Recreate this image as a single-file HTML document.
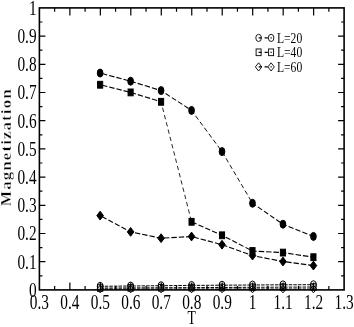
<!DOCTYPE html>
<html><head><meta charset="utf-8"><title>Magnetization vs T</title>
<style>html,body{margin:0;padding:0;background:#fff;}body{width:354px;height:327px;overflow:hidden;}svg{display:block;filter:grayscale(1);}text{font-family:"Liberation Serif",serif;fill:#000;}</style>
</head><body>
<svg width="354" height="327" viewBox="0 0 354 327">
<rect x="0" y="0" width="354" height="327" fill="#fff"/>
<rect x="39.4" y="7.9" width="304.70" height="282.00" fill="none" stroke="#000" stroke-width="1.6"/>
<path d="M54.63 289.9 v-3.8 M54.63 7.9 v3.8 M69.87 289.9 v-7.5 M69.87 7.9 v7.5 M85.11 289.9 v-3.8 M85.11 7.9 v3.8 M100.34 289.9 v-7.5 M100.34 7.9 v7.5 M115.58 289.9 v-3.8 M115.58 7.9 v3.8 M130.81 289.9 v-7.5 M130.81 7.9 v7.5 M146.05 289.9 v-3.8 M146.05 7.9 v3.8 M161.28 289.9 v-7.5 M161.28 7.9 v7.5 M176.52 289.9 v-3.8 M176.52 7.9 v3.8 M191.75 289.9 v-7.5 M191.75 7.9 v7.5 M206.99 289.9 v-3.8 M206.99 7.9 v3.8 M222.22 289.9 v-7.5 M222.22 7.9 v7.5 M237.46 289.9 v-3.8 M237.46 7.9 v3.8 M252.69 289.9 v-7.5 M252.69 7.9 v7.5 M267.93 289.9 v-3.8 M267.93 7.9 v3.8 M283.16 289.9 v-7.5 M283.16 7.9 v7.5 M298.40 289.9 v-3.8 M298.40 7.9 v3.8 M313.63 289.9 v-7.5 M313.63 7.9 v7.5 M328.87 289.9 v-3.8 M328.87 7.9 v3.8 M39.4 275.80 h3.0 M344.1 275.80 h-3.0 M39.4 261.70 h6.0 M344.1 261.70 h-6.0 M39.4 247.60 h3.0 M344.1 247.60 h-3.0 M39.4 233.50 h6.0 M344.1 233.50 h-6.0 M39.4 219.40 h3.0 M344.1 219.40 h-3.0 M39.4 205.30 h6.0 M344.1 205.30 h-6.0 M39.4 191.20 h3.0 M344.1 191.20 h-3.0 M39.4 177.10 h6.0 M344.1 177.10 h-6.0 M39.4 163.00 h3.0 M344.1 163.00 h-3.0 M39.4 148.90 h6.0 M344.1 148.90 h-6.0 M39.4 134.80 h3.0 M344.1 134.80 h-3.0 M39.4 120.70 h6.0 M344.1 120.70 h-6.0 M39.4 106.60 h3.0 M344.1 106.60 h-3.0 M39.4 92.50 h6.0 M344.1 92.50 h-6.0 M39.4 78.40 h3.0 M344.1 78.40 h-3.0 M39.4 64.30 h6.0 M344.1 64.30 h-6.0 M39.4 50.20 h3.0 M344.1 50.20 h-3.0 M39.4 36.10 h6.0 M344.1 36.10 h-6.0 M39.4 22.00 h3.0 M344.1 22.00 h-3.0" stroke="#000" stroke-width="1.2" fill="none"/>
<text transform="translate(39.40 308.50) scale(0.755 1)" text-anchor="middle" font-size="20.3" font-weight="normal">0.3</text>
<text transform="translate(69.87 308.50) scale(0.755 1)" text-anchor="middle" font-size="20.3" font-weight="normal">0.4</text>
<text transform="translate(100.34 308.50) scale(0.755 1)" text-anchor="middle" font-size="20.3" font-weight="normal">0.5</text>
<text transform="translate(130.81 308.50) scale(0.755 1)" text-anchor="middle" font-size="20.3" font-weight="normal">0.6</text>
<text transform="translate(161.28 308.50) scale(0.755 1)" text-anchor="middle" font-size="20.3" font-weight="normal">0.7</text>
<text transform="translate(191.75 308.50) scale(0.755 1)" text-anchor="middle" font-size="20.3" font-weight="normal">0.8</text>
<text transform="translate(222.22 308.50) scale(0.755 1)" text-anchor="middle" font-size="20.3" font-weight="normal">0.9</text>
<text transform="translate(252.69 308.50) scale(0.755 1)" text-anchor="middle" font-size="20.3" font-weight="normal">1</text>
<text transform="translate(283.16 308.50) scale(0.755 1)" text-anchor="middle" font-size="20.3" font-weight="normal">1.1</text>
<text transform="translate(313.63 308.50) scale(0.755 1)" text-anchor="middle" font-size="20.3" font-weight="normal">1.2</text>
<text transform="translate(344.10 308.50) scale(0.755 1)" text-anchor="middle" font-size="20.3" font-weight="normal">1.3</text>
<text transform="translate(36.60 296.80) scale(0.755 1)" text-anchor="end" font-size="20.3" font-weight="normal">0</text>
<text transform="translate(36.60 268.60) scale(0.755 1)" text-anchor="end" font-size="20.3" font-weight="normal">0.1</text>
<text transform="translate(36.60 240.40) scale(0.755 1)" text-anchor="end" font-size="20.3" font-weight="normal">0.2</text>
<text transform="translate(36.60 212.20) scale(0.755 1)" text-anchor="end" font-size="20.3" font-weight="normal">0.3</text>
<text transform="translate(36.60 184.00) scale(0.755 1)" text-anchor="end" font-size="20.3" font-weight="normal">0.4</text>
<text transform="translate(36.60 155.80) scale(0.755 1)" text-anchor="end" font-size="20.3" font-weight="normal">0.5</text>
<text transform="translate(36.60 127.60) scale(0.755 1)" text-anchor="end" font-size="20.3" font-weight="normal">0.6</text>
<text transform="translate(36.60 99.40) scale(0.755 1)" text-anchor="end" font-size="20.3" font-weight="normal">0.7</text>
<text transform="translate(36.60 71.20) scale(0.755 1)" text-anchor="end" font-size="20.3" font-weight="normal">0.8</text>
<text transform="translate(36.60 43.00) scale(0.755 1)" text-anchor="end" font-size="20.3" font-weight="normal">0.9</text>
<text transform="translate(36.60 14.80) scale(0.755 1)" text-anchor="end" font-size="20.3" font-weight="normal">1</text>
<text transform="translate(191.60 324.40) scale(0.7 1)" text-anchor="middle" font-size="19.5" font-weight="normal">T</text>
<g font-size="15.4" font-weight="bold" stroke="#fff" stroke-width="0.36">
<text transform="translate(11.2 206.2) rotate(-90) scale(1.05 1)">M</text>
<text transform="translate(11.2 189.84) rotate(-90) scale(1.1 1)" letter-spacing="1.000">agnetization</text>
</g>
<line x1="100.14" y1="73.05" x2="130.61" y2="81.20" stroke="#000" stroke-width="1.13" stroke-dasharray="5.42 1.99" stroke-dashoffset="5.50"/>
<line x1="130.61" y1="81.20" x2="161.08" y2="90.60" stroke="#000" stroke-width="1.13" stroke-dasharray="5.40 2.01" stroke-dashoffset="7.41"/>
<line x1="161.08" y1="90.60" x2="191.55" y2="110.40" stroke="#000" stroke-width="1.06" stroke-dasharray="5.14 2.29" stroke-dashoffset="2.06"/>
<line x1="191.55" y1="110.40" x2="222.02" y2="151.60" stroke="#000" stroke-width="0.95" stroke-dasharray="4.72 2.74" stroke-dashoffset="0.76"/>
<line x1="222.02" y1="151.60" x2="252.49" y2="203.25" stroke="#000" stroke-width="0.92" stroke-dasharray="4.61 2.86" stroke-dashoffset="7.03"/>
<line x1="252.49" y1="203.25" x2="282.96" y2="224.20" stroke="#000" stroke-width="1.06" stroke-dasharray="5.11 2.32" stroke-dashoffset="0.95"/>
<line x1="282.96" y1="224.20" x2="313.43" y2="236.40" stroke="#000" stroke-width="1.11" stroke-dasharray="5.33 2.08" stroke-dashoffset="1.38"/>
<line x1="100.14" y1="84.75" x2="130.61" y2="92.40" stroke="#000" stroke-width="1.13" stroke-dasharray="5.43 1.98" stroke-dashoffset="5.50"/>
<line x1="130.61" y1="92.40" x2="161.08" y2="101.80" stroke="#000" stroke-width="1.13" stroke-dasharray="5.40 2.01" stroke-dashoffset="7.28"/>
<line x1="161.08" y1="101.80" x2="191.55" y2="221.80" stroke="#000" stroke-width="0.85" stroke-dasharray="4.37 3.12" stroke-dashoffset="1.36"/>
<line x1="191.55" y1="221.80" x2="222.02" y2="235.30" stroke="#000" stroke-width="1.10" stroke-dasharray="5.30 2.11" stroke-dashoffset="7.20"/>
<line x1="222.02" y1="235.30" x2="252.49" y2="251.00" stroke="#000" stroke-width="1.09" stroke-dasharray="5.25 2.17" stroke-dashoffset="3.31"/>
<line x1="252.49" y1="251.00" x2="282.96" y2="252.60" stroke="#000" stroke-width="1.15" stroke-dasharray="5.50 1.90" stroke-dashoffset="1.20"/>
<line x1="282.96" y1="252.60" x2="313.43" y2="257.20" stroke="#000" stroke-width="1.14" stroke-dasharray="5.47 1.93" stroke-dashoffset="2.04"/>
<line x1="100.14" y1="215.60" x2="130.61" y2="231.90" stroke="#000" stroke-width="1.09" stroke-dasharray="5.23 2.19" stroke-dashoffset="5.50"/>
<line x1="130.61" y1="231.90" x2="161.08" y2="238.20" stroke="#000" stroke-width="1.14" stroke-dasharray="5.45 1.95" stroke-dashoffset="3.04"/>
<line x1="161.08" y1="238.20" x2="191.55" y2="236.50" stroke="#000" stroke-width="1.15" stroke-dasharray="5.50 1.90" stroke-dashoffset="4.57"/>
<line x1="191.55" y1="236.50" x2="222.02" y2="244.70" stroke="#000" stroke-width="1.13" stroke-dasharray="5.42 1.99" stroke-dashoffset="5.40"/>
<line x1="222.02" y1="244.70" x2="252.49" y2="255.60" stroke="#000" stroke-width="1.12" stroke-dasharray="5.36 2.05" stroke-dashoffset="7.25"/>
<line x1="252.49" y1="255.60" x2="282.96" y2="261.50" stroke="#000" stroke-width="1.14" stroke-dasharray="5.46 1.95" stroke-dashoffset="2.72"/>
<line x1="282.96" y1="261.50" x2="313.43" y2="265.60" stroke="#000" stroke-width="1.15" stroke-dasharray="5.48 1.92" stroke-dashoffset="4.19"/>
<line x1="100.14" y1="286.30" x2="130.61" y2="286.00" stroke="#000" stroke-width="1.00" stroke-dasharray="3.50 1.10" stroke-dashoffset="0.00"/>
<line x1="130.61" y1="286.00" x2="161.08" y2="285.70" stroke="#000" stroke-width="1.00" stroke-dasharray="3.50 1.10" stroke-dashoffset="2.87"/>
<line x1="161.08" y1="285.70" x2="191.55" y2="285.40" stroke="#000" stroke-width="1.00" stroke-dasharray="3.50 1.10" stroke-dashoffset="1.14"/>
<line x1="191.55" y1="285.40" x2="222.02" y2="285.20" stroke="#000" stroke-width="1.00" stroke-dasharray="3.50 1.10" stroke-dashoffset="4.01"/>
<line x1="222.02" y1="285.20" x2="252.49" y2="285.00" stroke="#000" stroke-width="1.00" stroke-dasharray="3.50 1.10" stroke-dashoffset="2.29"/>
<line x1="252.49" y1="285.00" x2="282.96" y2="284.80" stroke="#000" stroke-width="1.00" stroke-dasharray="3.50 1.10" stroke-dashoffset="0.56"/>
<line x1="282.96" y1="284.80" x2="313.43" y2="284.70" stroke="#000" stroke-width="1.00" stroke-dasharray="3.50 1.10" stroke-dashoffset="3.43"/>
<line x1="100.14" y1="288.05" x2="130.61" y2="287.90" stroke="#000" stroke-width="1.00" stroke-dasharray="3.50 1.10" stroke-dashoffset="0.00"/>
<line x1="130.61" y1="287.90" x2="161.08" y2="287.75" stroke="#000" stroke-width="1.00" stroke-dasharray="3.50 1.10" stroke-dashoffset="2.87"/>
<line x1="161.08" y1="287.75" x2="191.55" y2="287.60" stroke="#000" stroke-width="1.00" stroke-dasharray="3.50 1.10" stroke-dashoffset="1.14"/>
<line x1="191.55" y1="287.60" x2="222.02" y2="287.45" stroke="#000" stroke-width="1.00" stroke-dasharray="3.50 1.10" stroke-dashoffset="4.01"/>
<line x1="222.02" y1="287.45" x2="252.49" y2="287.30" stroke="#000" stroke-width="1.00" stroke-dasharray="3.50 1.10" stroke-dashoffset="2.28"/>
<line x1="252.49" y1="287.30" x2="282.96" y2="287.15" stroke="#000" stroke-width="1.00" stroke-dasharray="3.50 1.10" stroke-dashoffset="0.55"/>
<line x1="282.96" y1="287.15" x2="313.43" y2="287.05" stroke="#000" stroke-width="1.00" stroke-dasharray="3.50 1.10" stroke-dashoffset="3.42"/>
<line x1="100.14" y1="289.00" x2="130.61" y2="289.00" stroke="#000" stroke-width="1.00" stroke-dasharray="3.50 1.10" stroke-dashoffset="0.00"/>
<line x1="130.61" y1="289.00" x2="161.08" y2="289.00" stroke="#000" stroke-width="1.00" stroke-dasharray="3.50 1.10" stroke-dashoffset="2.87"/>
<line x1="161.08" y1="289.00" x2="191.55" y2="289.00" stroke="#000" stroke-width="1.00" stroke-dasharray="3.50 1.10" stroke-dashoffset="1.14"/>
<line x1="191.55" y1="289.00" x2="222.02" y2="289.00" stroke="#000" stroke-width="1.00" stroke-dasharray="3.50 1.10" stroke-dashoffset="4.01"/>
<line x1="222.02" y1="289.00" x2="252.49" y2="289.00" stroke="#000" stroke-width="1.00" stroke-dasharray="3.50 1.10" stroke-dashoffset="2.28"/>
<line x1="252.49" y1="289.00" x2="282.96" y2="289.00" stroke="#000" stroke-width="1.00" stroke-dasharray="3.50 1.10" stroke-dashoffset="0.55"/>
<line x1="282.96" y1="289.00" x2="313.43" y2="289.00" stroke="#000" stroke-width="1.00" stroke-dasharray="3.50 1.10" stroke-dashoffset="3.42"/>
<ellipse cx="100.14" cy="73.05" rx="2.85" ry="4.0" fill="#000" stroke="#000" stroke-width="1"/>
<ellipse cx="130.61" cy="81.20" rx="2.85" ry="4.0" fill="#000" stroke="#000" stroke-width="1"/>
<ellipse cx="161.08" cy="90.60" rx="2.85" ry="4.0" fill="#000" stroke="#000" stroke-width="1"/>
<ellipse cx="191.55" cy="110.40" rx="2.85" ry="4.0" fill="#000" stroke="#000" stroke-width="1"/>
<ellipse cx="222.02" cy="151.60" rx="2.85" ry="4.0" fill="#000" stroke="#000" stroke-width="1"/>
<ellipse cx="252.49" cy="203.25" rx="2.85" ry="4.0" fill="#000" stroke="#000" stroke-width="1"/>
<ellipse cx="282.96" cy="224.20" rx="2.85" ry="4.0" fill="#000" stroke="#000" stroke-width="1"/>
<ellipse cx="313.43" cy="236.40" rx="2.85" ry="4.0" fill="#000" stroke="#000" stroke-width="1"/>
<rect x="97.59" y="81.35" width="5.1" height="6.8" fill="#000" stroke="#000" stroke-width="1"/>
<rect x="128.06" y="89.00" width="5.1" height="6.8" fill="#000" stroke="#000" stroke-width="1"/>
<rect x="158.53" y="98.40" width="5.1" height="6.8" fill="#000" stroke="#000" stroke-width="1"/>
<rect x="189.00" y="218.40" width="5.1" height="6.8" fill="#000" stroke="#000" stroke-width="1"/>
<rect x="219.47" y="231.90" width="5.1" height="6.8" fill="#000" stroke="#000" stroke-width="1"/>
<rect x="249.94" y="247.60" width="5.1" height="6.8" fill="#000" stroke="#000" stroke-width="1"/>
<rect x="280.41" y="249.20" width="5.1" height="6.8" fill="#000" stroke="#000" stroke-width="1"/>
<rect x="310.88" y="253.80" width="5.1" height="6.8" fill="#000" stroke="#000" stroke-width="1"/>
<path d="M96.84 215.60 L100.14 211.20 L103.44 215.60 L100.14 220.00 Z" fill="#000" stroke="#000" stroke-width="1"/>
<path d="M127.31 231.90 L130.61 227.50 L133.91 231.90 L130.61 236.30 Z" fill="#000" stroke="#000" stroke-width="1"/>
<path d="M157.78 238.20 L161.08 233.80 L164.38 238.20 L161.08 242.60 Z" fill="#000" stroke="#000" stroke-width="1"/>
<path d="M188.25 236.50 L191.55 232.10 L194.85 236.50 L191.55 240.90 Z" fill="#000" stroke="#000" stroke-width="1"/>
<path d="M218.72 244.70 L222.02 240.30 L225.32 244.70 L222.02 249.10 Z" fill="#000" stroke="#000" stroke-width="1"/>
<path d="M249.19 255.60 L252.49 251.20 L255.79 255.60 L252.49 260.00 Z" fill="#000" stroke="#000" stroke-width="1"/>
<path d="M279.66 261.50 L282.96 257.10 L286.26 261.50 L282.96 265.90 Z" fill="#000" stroke="#000" stroke-width="1"/>
<path d="M310.13 265.60 L313.43 261.20 L316.73 265.60 L313.43 270.00 Z" fill="#000" stroke="#000" stroke-width="1"/>
<ellipse cx="100.14" cy="286.30" rx="2.9" ry="4.0" fill="none" stroke="#000" stroke-width="1.0"/>
<ellipse cx="130.61" cy="286.00" rx="2.9" ry="4.0" fill="none" stroke="#000" stroke-width="1.0"/>
<ellipse cx="161.08" cy="285.70" rx="2.9" ry="4.0" fill="none" stroke="#000" stroke-width="1.0"/>
<ellipse cx="191.55" cy="285.40" rx="2.9" ry="4.0" fill="none" stroke="#000" stroke-width="1.0"/>
<ellipse cx="222.02" cy="285.20" rx="2.9" ry="4.0" fill="none" stroke="#000" stroke-width="1.0"/>
<ellipse cx="252.49" cy="285.00" rx="2.9" ry="4.0" fill="none" stroke="#000" stroke-width="1.0"/>
<ellipse cx="282.96" cy="284.80" rx="2.9" ry="4.0" fill="none" stroke="#000" stroke-width="1.0"/>
<ellipse cx="313.43" cy="284.70" rx="2.9" ry="4.0" fill="none" stroke="#000" stroke-width="1.0"/>
<rect x="97.54" y="284.75" width="5.2" height="6.6" fill="none" stroke="#000" stroke-width="1.0"/>
<rect x="128.01" y="284.60" width="5.2" height="6.6" fill="none" stroke="#000" stroke-width="1.0"/>
<rect x="158.48" y="284.45" width="5.2" height="6.6" fill="none" stroke="#000" stroke-width="1.0"/>
<rect x="188.95" y="284.30" width="5.2" height="6.6" fill="none" stroke="#000" stroke-width="1.0"/>
<rect x="219.42" y="284.15" width="5.2" height="6.6" fill="none" stroke="#000" stroke-width="1.0"/>
<rect x="249.89" y="284.00" width="5.2" height="6.6" fill="none" stroke="#000" stroke-width="1.0"/>
<rect x="280.36" y="283.85" width="5.2" height="6.6" fill="none" stroke="#000" stroke-width="1.0"/>
<rect x="310.83" y="283.75" width="5.2" height="6.6" fill="none" stroke="#000" stroke-width="1.0"/>
<path d="M96.94 289.00 L100.14 285.20 L103.34 289.00 L100.14 292.80 Z" fill="none" stroke="#000" stroke-width="1.0"/>
<path d="M127.41 289.00 L130.61 285.20 L133.81 289.00 L130.61 292.80 Z" fill="none" stroke="#000" stroke-width="1.0"/>
<path d="M157.88 289.00 L161.08 285.20 L164.28 289.00 L161.08 292.80 Z" fill="none" stroke="#000" stroke-width="1.0"/>
<path d="M188.35 289.00 L191.55 285.20 L194.75 289.00 L191.55 292.80 Z" fill="none" stroke="#000" stroke-width="1.0"/>
<path d="M218.82 289.00 L222.02 285.20 L225.22 289.00 L222.02 292.80 Z" fill="none" stroke="#000" stroke-width="1.0"/>
<path d="M249.29 289.00 L252.49 285.20 L255.69 289.00 L252.49 292.80 Z" fill="none" stroke="#000" stroke-width="1.0"/>
<path d="M279.76 289.00 L282.96 285.20 L286.16 289.00 L282.96 292.80 Z" fill="none" stroke="#000" stroke-width="1.0"/>
<path d="M310.23 289.00 L313.43 285.20 L316.63 289.00 L313.43 292.80 Z" fill="none" stroke="#000" stroke-width="1.0"/>
<path d="M258.6 37.9 h3 M264.6 37.9 h3.2 M270.5 37.9 h1.2" stroke="#000" stroke-width="1.2" fill="none"/>
<path d="M258.6 52.3 h3 M264.6 52.3 h3.2 M270.5 52.3 h1.2" stroke="#000" stroke-width="1.2" fill="none"/>
<path d="M258.6 66.9 h3 M264.6 66.9 h3.2 M270.5 66.9 h1.2" stroke="#000" stroke-width="1.2" fill="none"/>
<ellipse cx="258.60" cy="37.90" rx="2.8" ry="3.6" fill="none" stroke="#000" stroke-width="0.9"/>
<ellipse cx="271.10" cy="37.90" rx="2.8" ry="3.6" fill="none" stroke="#000" stroke-width="0.9"/>
<rect x="256.10" y="48.95" width="5.0" height="6.7" fill="none" stroke="#000" stroke-width="0.9"/>
<rect x="268.60" y="48.95" width="5.0" height="6.7" fill="none" stroke="#000" stroke-width="0.9"/>
<path d="M255.40 66.90 L258.60 62.80 L261.80 66.90 L258.60 71.00 Z" fill="none" stroke="#000" stroke-width="0.9"/>
<path d="M267.90 66.90 L271.10 62.80 L274.30 66.90 L271.10 71.00 Z" fill="none" stroke="#000" stroke-width="0.9"/>
<text transform="translate(277.00 42.90) scale(0.758 1)" text-anchor="start" font-size="15.3" font-weight="normal">L=20</text>
<text transform="translate(277.00 57.30) scale(0.758 1)" text-anchor="start" font-size="15.3" font-weight="normal">L=40</text>
<text transform="translate(277.00 71.90) scale(0.758 1)" text-anchor="start" font-size="15.3" font-weight="normal">L=60</text>
</svg></body></html>
